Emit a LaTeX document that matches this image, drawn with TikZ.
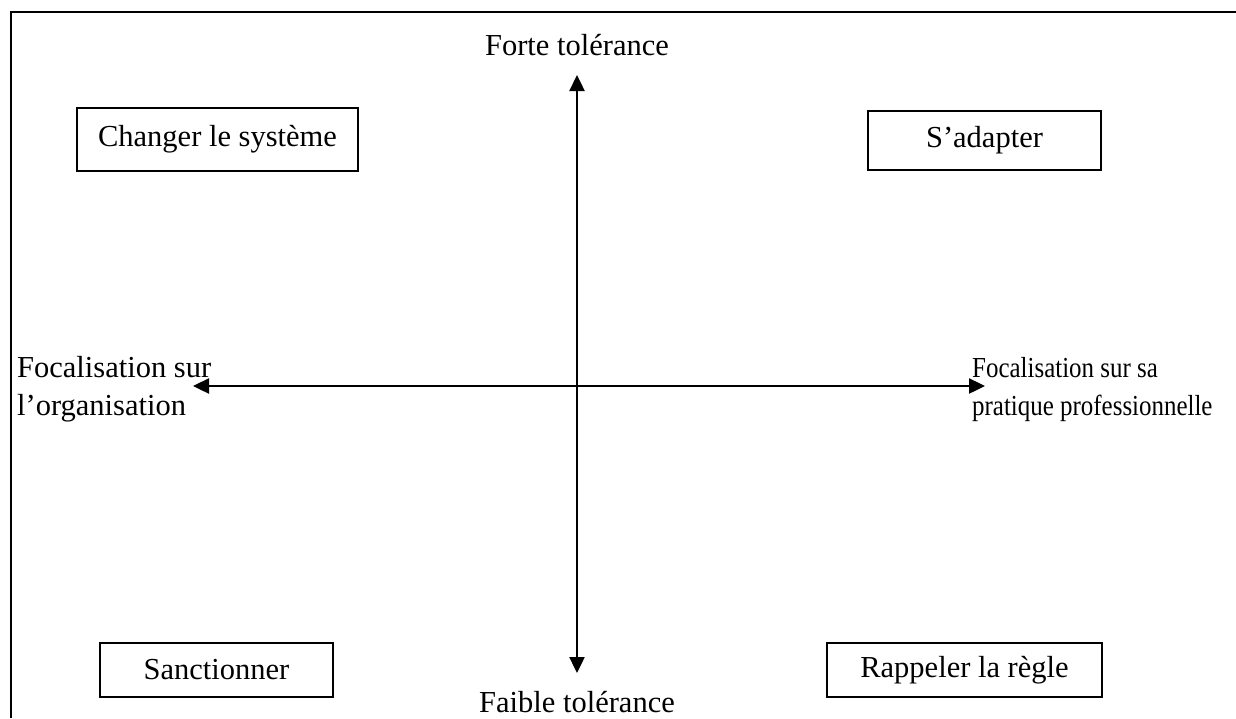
\documentclass[tikz,border=0pt]{standalone}
\usepackage{fontspec}
\setmainfont{Liberation Serif}
\newfontfamily\narrowserif[FakeStretch=0.86]{Liberation Serif}
\usetikzlibrary{arrows.meta}
\tikzset{
  lbl/.style={font=\fontsize{30.5}{38}\selectfont, inner sep=0pt},
  qbox/.style={draw, line width=1.6pt, font=\fontsize{30.5}{38}\selectfont, inner sep=0pt, align=center},
  axis/.style={line width=2.4pt, {Triangle[length=16pt,width=15pt]}-{Triangle[length=16pt,width=15pt]}},
  frame/.style={line width=2.4pt}
}
\begin{document}
\begin{tikzpicture}[x=1pt,y=-1pt]
\useasboundingbox (0,0) rectangle (1236,718);
% frame (top and left only)
\coordinate (fbl) at (11,718);
\coordinate (ftl) at (11,12);
\coordinate (ftr) at (1236,12);
\draw[frame] (fbl) -- (ftl) -- (ftr);
% axes
\coordinate (top) at (577,75);
\coordinate (bot) at (577,673);
\coordinate (lft) at (193,386);
\coordinate (rgt) at (985,386);
\draw[axis] (bot) -- (top);
\draw[axis] (lft) -- (rgt);
% axis labels
\node[lbl, anchor=base] (forte) at (577,55) {Forte tolérance};
\node[lbl, anchor=base] (faible) at (577,712) {Faible tolérance};
\node[lbl, anchor=base west, align=left] (orga) at (17,415) {Focalisation sur\\l’organisation};
\node[lbl, anchor=base west, align=left, font=\narrowserif\fontsize{29}{38}\selectfont] (prat) at (972,415) {Focalisation sur sa\\pratique professionnelle};
% quadrant boxes
\node[qbox, minimum width=281pt, minimum height=63pt] (chg) at (217.5,139.5) {Changer le système};
\node[qbox, minimum width=233pt, minimum height=59pt] (adp) at (984.5,140.5) {S’adapter};
\node[qbox, minimum width=233pt, minimum height=54pt] (snc) at (216.5,670) {Sanctionner};
\node[qbox, minimum width=275pt, minimum height=54pt] (rap) at (964.5,670) {Rappeler la règle};
\end{tikzpicture}
\end{document}
